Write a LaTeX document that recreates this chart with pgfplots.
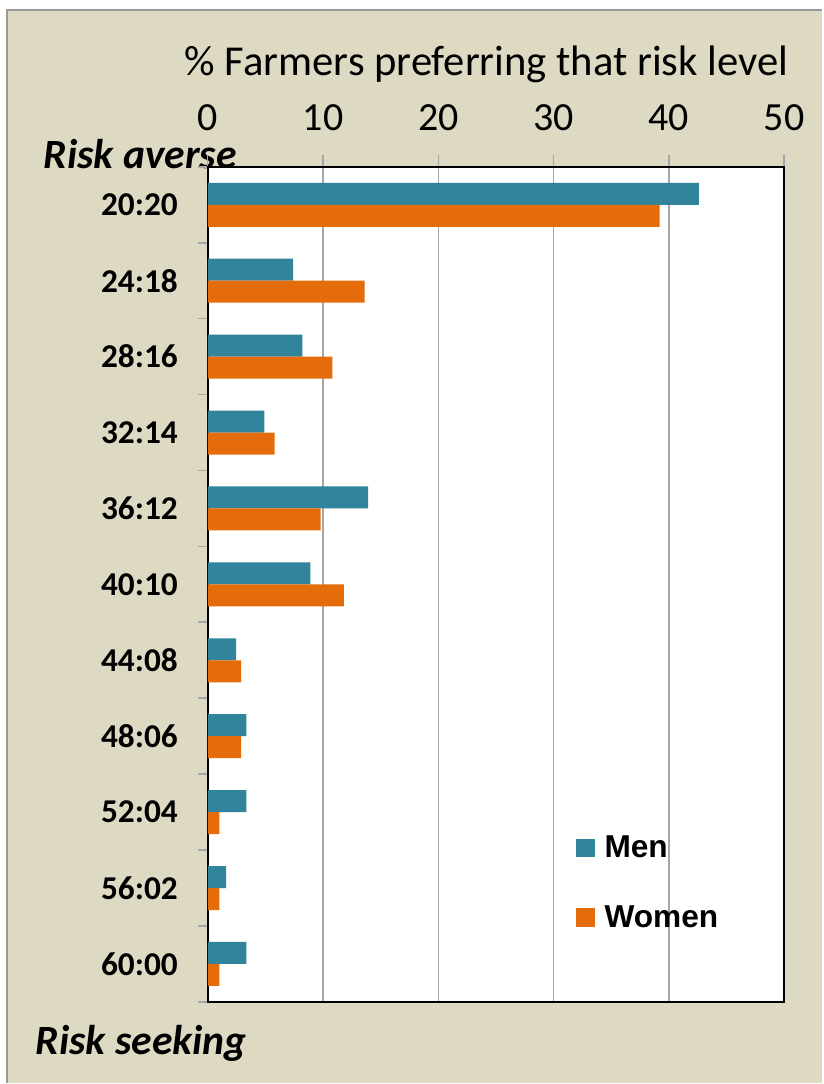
\documentclass[border=0pt]{standalone}
\usepackage{pgfplots}
\pgfplotsset{compat=1.18}
\usepackage{fontspec}
\setmainfont{Carlito}
\newfontfamily\arialfont{Liberation Sans}
\definecolor{beige}{HTML}{DDD9C3}
\definecolor{menc}{HTML}{31849B}
\definecolor{womenc}{HTML}{E46C0A}
\begin{document}
\begin{tikzpicture}
\begin{scope}[x=0.6pt,y=-0.6pt]
\fill[white] (0,0) rectangle (823,1084);
\fill[beige] (7,10) rectangle (823,1084);
\draw[gray!80, line width=1.4pt] (7,1084) -- (7,10) -- (823,10);
\node[anchor=center, font=\fontsize{25.6}{28}\selectfont] at (487,64) {\% Farmers preferring that risk level};
\node[anchor=west, font=\fontsize{25}{28}\selectfont\bfseries\itshape] at (38,154) {Risk averse};
\node[anchor=west, font=\fontsize{25}{28}\selectfont\bfseries\itshape] at (30,1045) {Risk seeking};
\end{scope}
\begin{axis}[
  at={(124.8pt,-601.8pt)}, anchor=south west,
  width=346.2pt, height=501.6pt, scale only axis,
  axis background/.style={fill=white},
  xbar, bar width=13.2pt,
  xmin=0, xmax=50, ymin=-0.5, ymax=10.5,
  /pgf/number format/assume math mode=true,
  xtick={0,10,...,50}, xtick pos=right, xticklabel pos=right,
  tick align=outside,
  major tick length=7pt, minor tick length=6pt,
  xmajorgrids, grid style={gray!70, line width=0.8pt},
  major x tick style={gray!70, line width=0.8pt},
  xticklabel style={font=\fontsize{24}{26}\selectfont, yshift=11pt},
  ytick={0,...,10},
  yticklabels={60:00,56:02,52:04,48:06,44:08,40:10,36:12,32:14,28:16,24:18,20:20},
  ytick pos=left,
  major y tick style={draw=none},
  minor ytick={-0.5,0.5,...,10.5},
  minor y tick style={gray!70, line width=1pt},
  yticklabel style={font=\fontsize{20}{22}\selectfont\bfseries, xshift=-7.5pt},
  axis line style={black, line width=1.4pt},
  legend style={at={(0.63,0.207)}, anchor=north west, draw=none, fill=none,
    font=\fontsize{19}{21}\selectfont\arialfont\bfseries, row sep=23pt},
  legend cell align=left,
  legend image code/.code={\fill[#1] (0pt,-5.5pt) rectangle (11pt,5.5pt);},
  legend style={nodes={inner xsep=6pt}},
]
\addplot[fill=menc, draw=none, bar shift=6.6pt] coordinates {
(42.6,10) (7.4,9) (8.2,8) (4.9,7) (13.9,6) (8.9,5) (2.45,4) (3.35,3) (3.35,2) (1.6,1) (3.35,0)};
\addplot[fill=womenc, draw=none, bar shift=-6.6pt] coordinates {
(39.2,10) (13.6,9) (10.8,8) (5.8,7) (9.8,6) (11.8,5) (2.9,4) (2.9,3) (1.0,2) (1.0,1) (1.0,0)};
\legend{Men,Women}
\end{axis}
\end{tikzpicture}
\end{document}
